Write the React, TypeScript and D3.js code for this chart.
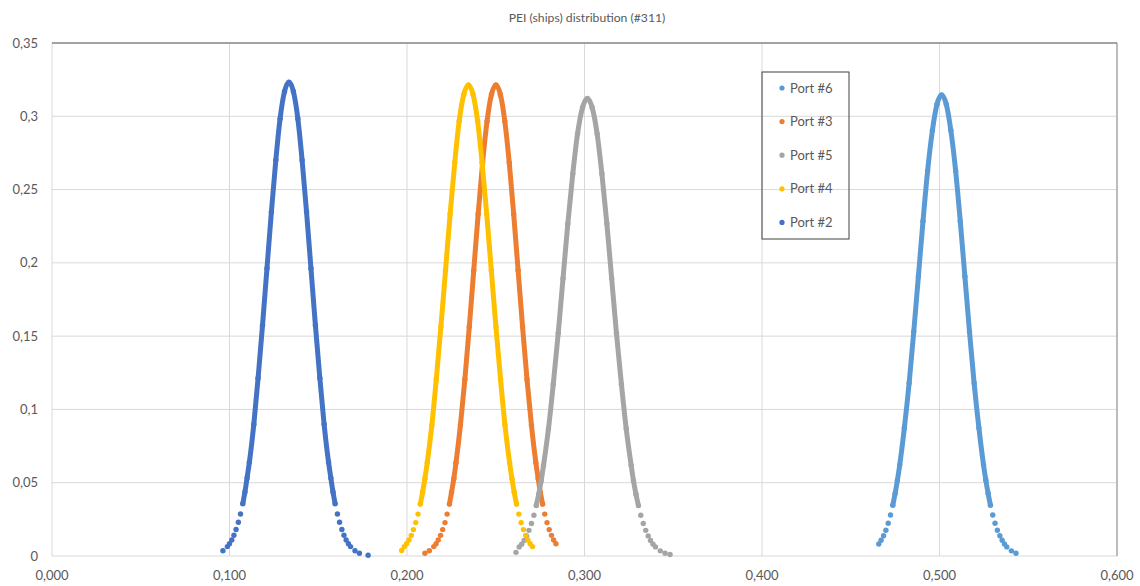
import * as d3 from 'd3';
import React from 'react';

// values (x = PEI, y = density)
const port6: [number, number][] = [
  [0.4658, 0.0082], [0.4671, 0.0107], [0.4685, 0.0138], [0.4698, 0.0176], [0.4711, 0.0223],
  [0.4724, 0.028], [0.4737, 0.0347], [0.475, 0.0426], [0.4763, 0.0517], [0.4776, 0.0622],
  [0.4802, 0.0874], [0.4829, 0.118], [0.4855, 0.1531], [0.4881, 0.1907], [0.4907, 0.2284],
  [0.4933, 0.2627], [0.496, 0.2903], [0.4986, 0.3083], [0.5012, 0.3145], [0.5038, 0.3083],
  [0.5064, 0.2903], [0.5091, 0.2627], [0.5117, 0.2284], [0.5143, 0.1907], [0.5169, 0.1531],
  [0.5195, 0.118], [0.5222, 0.0874], [0.5248, 0.0622], [0.5261, 0.0517], [0.5274, 0.0426],
  [0.5287, 0.0347], [0.53, 0.028], [0.5313, 0.0223], [0.5326, 0.0176], [0.534, 0.0138],
  [0.5353, 0.0107], [0.5366, 0.0082], [0.5379, 0.0062], [0.5405, 0.0035], [0.5431, 0.0019],
];

const port3: [number, number][] = [
  [0.2101, 0.0019], [0.2126, 0.0036], [0.2151, 0.0064], [0.2164, 0.0084], [0.2176, 0.0109],
  [0.2189, 0.0141], [0.2201, 0.018], [0.2214, 0.0228], [0.2226, 0.0286], [0.2239, 0.0354],
  [0.2251, 0.0435], [0.2264, 0.0529], [0.2276, 0.0636], [0.2301, 0.0893], [0.2326, 0.1206],
  [0.2351, 0.1564], [0.2376, 0.1949], [0.2401, 0.2333], [0.2426, 0.2684], [0.2451, 0.2966],
  [0.2476, 0.3149], [0.2501, 0.3213], [0.2526, 0.3149], [0.2551, 0.2966], [0.2576, 0.2684],
  [0.2601, 0.2333], [0.2626, 0.1949], [0.2651, 0.1564], [0.2676, 0.1206], [0.2701, 0.0893],
  [0.2726, 0.0636], [0.2739, 0.0529], [0.2751, 0.0435], [0.2764, 0.0354], [0.2776, 0.0286],
  [0.2789, 0.0228], [0.2801, 0.018], [0.2814, 0.0141], [0.2826, 0.0109], [0.2839, 0.0084],
];

const port5: [number, number][] = [
  [0.2614, 0.0025], [0.2632, 0.0062], [0.2646, 0.0081], [0.266, 0.0106], [0.2674, 0.0137],
  [0.2687, 0.0175], [0.2701, 0.0222], [0.2715, 0.0278], [0.2728, 0.0344], [0.2742, 0.0422],
  [0.2756, 0.0514], [0.2769, 0.0618], [0.2797, 0.0868], [0.2824, 0.1172], [0.2852, 0.152],
  [0.2879, 0.1894], [0.2906, 0.2267], [0.2934, 0.2608], [0.2961, 0.2882], [0.2989, 0.306],
  [0.3016, 0.3122], [0.3043, 0.306], [0.3071, 0.2882], [0.3098, 0.2608], [0.3126, 0.2267],
  [0.3153, 0.1894], [0.318, 0.152], [0.3208, 0.1172], [0.3235, 0.0868], [0.3263, 0.0618],
  [0.3276, 0.0514], [0.329, 0.0422], [0.3304, 0.0344], [0.3317, 0.0278], [0.3331, 0.0222],
  [0.3345, 0.0175], [0.3359, 0.0137], [0.3372, 0.0106], [0.3386, 0.0081], [0.34, 0.0062],
  [0.3427, 0.0035], [0.3454, 0.0019], [0.3482, 0.001],
];

const port4: [number, number][] = [
  [0.197, 0.0038], [0.1985, 0.0064], [0.1998, 0.0084], [0.2011, 0.0109], [0.2024, 0.0141],
  [0.2036, 0.018], [0.2049, 0.0228], [0.2062, 0.0286], [0.2075, 0.0354], [0.2088, 0.0435],
  [0.2101, 0.0529], [0.2114, 0.0636], [0.214, 0.0893], [0.2165, 0.1206], [0.2191, 0.1564],
  [0.2217, 0.1949], [0.2243, 0.2333], [0.2269, 0.2684], [0.2294, 0.2966], [0.232, 0.3149],
  [0.2346, 0.3213], [0.2372, 0.3149], [0.2398, 0.2966], [0.2423, 0.2684], [0.2449, 0.2333],
  [0.2475, 0.1949], [0.2501, 0.1564], [0.2527, 0.1206], [0.2552, 0.0893], [0.2578, 0.0636],
  [0.2591, 0.0529], [0.2604, 0.0435], [0.2617, 0.0354], [0.263, 0.0286], [0.2643, 0.0228],
  [0.2656, 0.018], [0.2669, 0.0141], [0.2681, 0.0109], [0.2694, 0.0084], [0.2707, 0.0064],
];

const port2: [number, number][] = [
  [0.0963, 0.0036], [0.0988, 0.0064], [0.1, 0.0084], [0.1013, 0.011], [0.1025, 0.0142],
  [0.1037, 0.0181], [0.105, 0.023], [0.1062, 0.0287], [0.1075, 0.0357], [0.1087, 0.0437],
  [0.1099, 0.0532], [0.1112, 0.064], [0.1137, 0.0899], [0.1161, 0.1213], [0.1186, 0.1574],
  [0.1211, 0.1961], [0.1236, 0.2348], [0.1261, 0.2701], [0.1285, 0.2984], [0.131, 0.3169],
  [0.1335, 0.3233], [0.136, 0.3169], [0.1385, 0.2984], [0.1409, 0.2701], [0.1434, 0.2348],
  [0.1459, 0.1961], [0.1484, 0.1574], [0.1509, 0.1213], [0.1533, 0.0899], [0.1558, 0.064],
  [0.1571, 0.0532], [0.1583, 0.0437], [0.1595, 0.0357], [0.1608, 0.0287], [0.162, 0.023],
  [0.1633, 0.0181], [0.1645, 0.0142], [0.1657, 0.011], [0.167, 0.0084], [0.1682, 0.0064],
  [0.1707, 0.0036], [0.1732, 0.0019], [0.1781, 0.0005],
];

const seriesNames = ['Port #6', 'Port #3', 'Port #5', 'Port #4', 'Port #2'];
const seriesData = [port6, port3, port5, port4, port2];
const seriesColors = ['#5B9BD5', '#ED7D31', '#A5A5A5', '#FFC000', '#4472C4'];

const xTicks = [0, 0.1, 0.2, 0.3, 0.4, 0.5, 0.6];
const xTickLabels = ['0,000', '0,100', '0,200', '0,300', '0,400', '0,500', '0,600'];
const yTicks = [0, 0.05, 0.1, 0.15, 0.2, 0.25, 0.3, 0.35];
const yTickLabels = ['0', '0,05', '0,1', '0,15', '0,2', '0,25', '0,3', '0,35'];

const title = 'PEI (ships) distribution (#311)';

export default function App() {
  const width = 1140;
  const height = 586;
  const margin = { top: 43, right: 23, bottom: 30, left: 52 };
  const font = 'Lato, "Open Sans", sans-serif';

  const x = d3
    .scaleLinear()
    .domain([0, 0.6])
    .range([margin.left, width - margin.right]);
  const y = d3
    .scaleLinear()
    .domain([0, 0.35])
    .range([height - margin.bottom, margin.top]);

  // dense middle part looks like a solid stroke in the original
  const line = d3
    .line<[number, number]>()
    .x(d => x(d[0]))
    .y(d => y(d[1]))
    .curve(d3.curveMonotoneX);

  const legendX = 762;
  const legendY = 72;
  const legendW = 87;
  const legendH = 167;

  return (
    <svg
      width={width}
      height={height}
      style={{ position: 'absolute', left: 0, top: 0, background: '#fff' }}
    >
      <text
        x={587}
        y={22}
        textAnchor="middle"
        fontFamily={font}
        fontSize={12.2}
        fill="#595959"
      >
        {title}
      </text>

      {/* grid */}
      {xTicks.map(t => (
        <line
          key={'gx' + t}
          x1={x(t)}
          x2={x(t)}
          y1={y(0)}
          y2={y(0.35)}
          stroke="#d9d9d9"
        />
      ))}
      {yTicks.map(t => (
        <line
          key={'gy' + t}
          x1={x(0)}
          x2={x(0.6)}
          y1={y(t)}
          y2={y(t)}
          stroke="#d9d9d9"
        />
      ))}
      <line x1={x(0)} x2={x(0.6)} y1={y(0.35)} y2={y(0.35)} stroke="#595959" />
      <line x1={x(0.6)} x2={x(0.6)} y1={y(0.35)} y2={y(0)} stroke="#8c8c8c" />

      {/* axis labels */}
      {xTicks.map((t, i) => (
        <text
          key={'xl' + t}
          x={x(t)}
          y={y(0) + 24}
          textAnchor="middle"
          fontFamily={font}
          fontSize={13}
          fill="#595959"
        >
          {xTickLabels[i]}
        </text>
      ))}
      {yTicks.map((t, i) => (
        <text
          key={'yl' + t}
          x={38}
          y={y(t)}
          dy="0.35em"
          textAnchor="end"
          fontFamily={font}
          fontSize={13}
          fill="#595959"
        >
          {yTickLabels[i]}
        </text>
      ))}

      {/* series */}
      {seriesData.map((pts, i) => (
        <g key={seriesNames[i]}>
          <path
            d={line(pts.filter(p => p[1] >= 0.034)) ?? ''}
            fill="none"
            stroke={seriesColors[i]}
            strokeWidth={5}
            strokeLinecap="round"
            strokeLinejoin="round"
          />
          {pts.map((p, j) => (
            <circle
              key={j}
              cx={x(p[0])}
              cy={y(p[1])}
              r={2.7}
              fill={seriesColors[i]}
            />
          ))}
        </g>
      ))}

      {/* legend */}
      <rect
        x={legendX}
        y={legendY}
        width={legendW}
        height={legendH}
        fill="none"
        stroke="#404040"
      />
      {seriesNames.map((name, i) => (
        <g key={'lg' + name} transform={`translate(${legendX},${legendY + 16 + i * 33.6})`}>
          <circle cx={20} cy={0} r={2.6} fill={seriesColors[i]} />
          <text
            x={28}
            y={0}
            dy="0.35em"
            fontFamily={font}
            fontSize={13}
            fill="#595959"
          >
            {name}
          </text>
        </g>
      ))}
    </svg>
  );
}
